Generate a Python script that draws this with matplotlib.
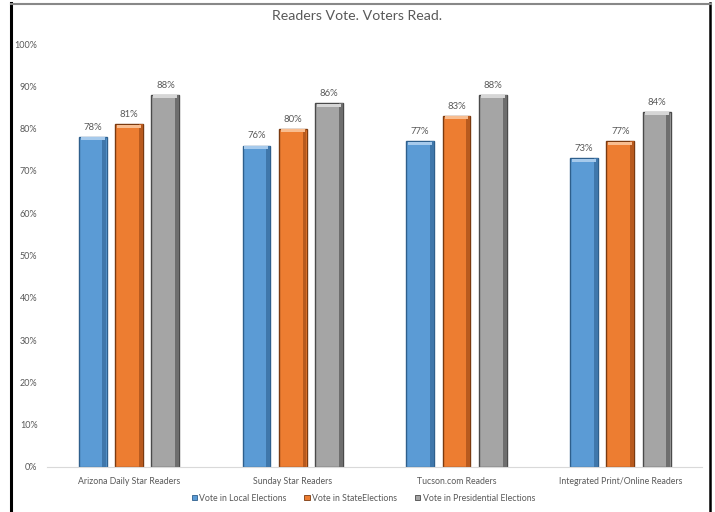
import matplotlib
matplotlib.use("Agg")
import matplotlib.pyplot as plt
import numpy as np
from matplotlib.patches import Rectangle
from matplotlib.lines import Line2D

categories = ["Arizona Daily Star Readers", "Sunday Star Readers", "Tucson.com Readers", "Integrated Print/Online Readers"]
series_names = ["Vote in Local Elections", "Vote in StateElections", "Vote in Presidential Elections"]
local_vals = [78, 76, 77, 73]
state_vals = [81, 80, 83, 77]
pres_vals = [88, 86, 88, 84]
yticks = [0, 10, 20, 30, 40, 50, 60, 70, 80, 90, 100]

colors = ["#5b9bd5", "#ed7d31", "#a5a5a5"]
edges = ["#2e5f8c", "#7a3a10", "#4a4a4a"]
tops = ["#a6caec", "#f8bd90", "#d6d6d6"]
shades = ["#3f77ab", "#b85a1e", "#6e6e6e"]

plt.rcParams['font.family'] = ['Lato', 'DejaVu Sans']
fig = plt.figure(figsize=(7.15, 5.12), dpi=100)
ax = fig.add_axes([0.066, 0.088, 0.916, 0.826])

x = np.arange(len(categories))
w = 0.17
off = 0.222
allvals = [local_vals, state_vals, pres_vals]
for i, vals in enumerate(allvals):
    pos = x + (i - 1) * off
    ax.bar(pos, vals, width=w, color=colors[i], edgecolor=edges[i], linewidth=1.0, zorder=2)
    # right-side shading
    ax.bar(pos + w * 0.42, vals, width=w * 0.14, color=shades[i], linewidth=0, zorder=3)
    # bevel top highlight
    ax.bar(pos, [0.7] * len(vals), bottom=np.array(vals) - 0.8, width=w * 0.86,
           color=tops[i], linewidth=0, zorder=4)
    for p, v in zip(pos, vals):
        ax.text(p, v + 1.2, f"{v}%", ha="center", va="bottom", fontsize=6.8, color="#595959")

ax.set_xlim(-0.5, 3.5)
ax.set_ylim(0, 100)
ax.set_yticks(yticks)
ax.set_yticklabels([f"{t}%" for t in yticks], fontsize=6.5, color="#595959")
ax.set_xticks(x)
ax.set_xticklabels(categories, fontsize=6.3, color="#595959")
ax.tick_params(length=0)
ax.tick_params(axis='x', pad=7)
ax.tick_params(axis='y', pad=7)
for s in ["top", "right", "left"]:
    ax.spines[s].set_visible(False)
ax.spines["bottom"].set_color("#d9d9d9")

fig.text(0.5, 0.969, "Readers Vote. Voters Read.", ha="center", va="center", fontsize=10.2, color="#595959")

handles = [Rectangle((0, 0), 1, 1, facecolor=colors[i], edgecolor=edges[i], linewidth=0.6) for i in range(3)]
fig.legend(handles, series_names, loc="center", bbox_to_anchor=(0.508, 0.027), ncol=3, frameon=False,
           fontsize=6.3, labelcolor="#595959", handlelength=0.6, handleheight=0.6, handletextpad=0.3,
           columnspacing=2.0)

# outer frame
fig.add_artist(Line2D([0.0155, 0.0155], [0, 0.994], transform=fig.transFigure, color="black", linewidth=2.2))
fig.add_artist(Line2D([0.993, 0.993], [0, 0.994], transform=fig.transFigure, color="black", linewidth=1.8))
fig.add_artist(Line2D([0.015, 0.994], [0.993, 0.993], transform=fig.transFigure, color="#888888", linewidth=1.5))

fig.savefig("out.png", dpi=100)
